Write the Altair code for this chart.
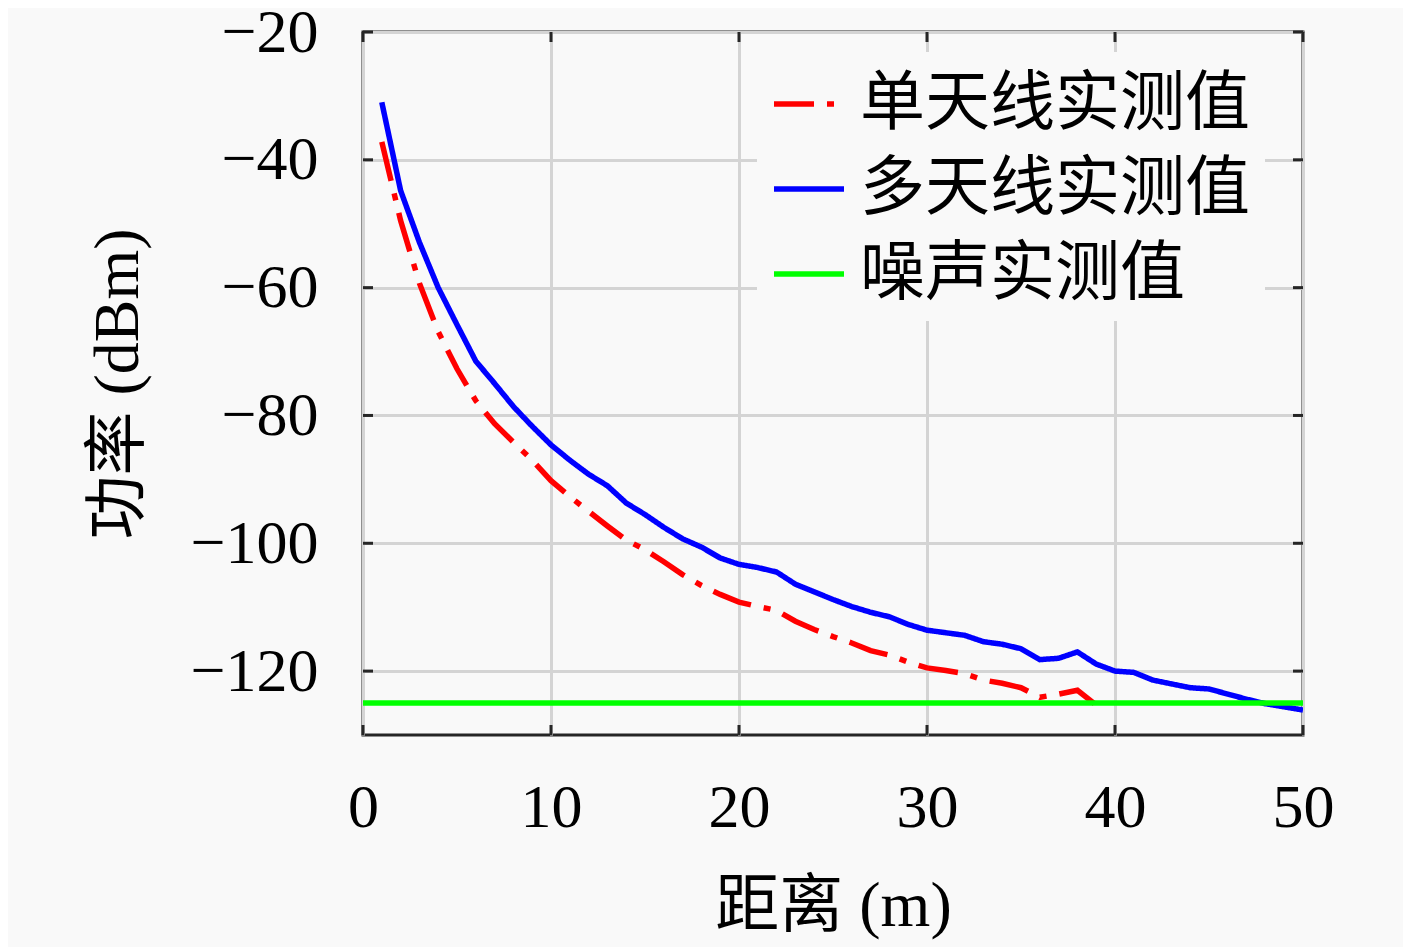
import altair as alt
import pandas as pd

# ---- data ----
x_single = list(range(1, 40))
single = [-37.2, -49.5, -59.3, -66.9, -72.7, -77.7, -81.3, -84.2, -87.0, -90.2,
          -92.7, -95.0, -97.3, -99.5, -101.0, -102.9, -104.9, -106.6, -108.0, -109.2,
          -109.9, -110.5, -112.2, -113.5, -114.6, -115.6, -116.8, -117.5, -118.6, -119.5,
          -119.9, -120.4, -121.4, -121.9, -122.6, -124.1, -123.6, -123.0, -125.3]

x_multi = list(range(1, 51))
multi = [-31.0, -44.8, -52.9, -60.0, -65.8, -71.5, -75.0, -78.6, -81.7, -84.6,
         -87.0, -89.2, -91.0, -93.7, -95.5, -97.5, -99.3, -100.6, -102.3, -103.3,
         -103.8, -104.5, -106.4, -107.6, -108.8, -109.9, -110.8, -111.5, -112.7, -113.6,
         -114.0, -114.4, -115.4, -115.8, -116.5, -118.2, -118.0, -117.0, -118.9, -120.0,
         -120.2, -121.4, -122.0, -122.6, -122.8, -123.6, -124.4, -125.1, -125.6, -126.1]

x_noise = [0, 50]
noise = [-125.0, -125.0]

series_names = ["单天线实测值", "多天线实测值", "噪声实测值"]
series_colors = ["#ff0000", "#0000ff", "#00ff00"]
series_dash = [[40, 13, 7, 13], [1, 0], [1, 0]]

x_ticks = [0, 10, 20, 30, 40, 50]
y_ticks = [-120, -100, -80, -60, -40, -20]
x_domain = [0, 50]
y_domain = [-130, -20]

BG = "#f9f9f9"
FRAME = "#262626"
W, H = 940, 703
SERIF = "'Liberation Serif', 'Noto Sans CJK SC'"
CJK = "'Noto Sans CJK SC'"

rows = []
for xv, yv in zip(x_single, single):
    rows.append({"x": xv, "y": yv, "s": series_names[0]})
for xv, yv in zip(x_multi, multi):
    rows.append({"x": xv, "y": yv, "s": series_names[1]})
for xv, yv in zip(x_noise, noise):
    rows.append({"x": xv, "y": yv, "s": series_names[2]})
df = pd.DataFrame(rows)

xs = alt.Scale(domain=x_domain, nice=False, zero=False)
ys = alt.Scale(domain=y_domain, nice=False, zero=False)

lines = alt.Chart(df).mark_line(strokeWidth=5.5, clip=True).encode(
    x=alt.X("x:Q", scale=xs,
            axis=alt.Axis(values=x_ticks, title="距离 (m)", grid=True, ticks=False,
                          domain=False, labelPadding=42, titlePadding=36,
                          labelFlush=False)),
    y=alt.Y("y:Q", scale=ys,
            axis=alt.Axis(values=y_ticks, title="功率 (dBm)", grid=True, ticks=False,
                          domain=False, labelPadding=45, titlePadding=40,
                          labelFlush=False)),
    color=alt.Color("s:N", sort=series_names,
                    scale=alt.Scale(domain=series_names, range=series_colors),
                    legend=alt.Legend(title=None, orient="none", legendX=394, legendY=20,
                                      symbolType="stroke", symbolSize=4900,
                                      symbolStrokeWidth=5.5, labelFontSize=65,
                                      labelFont=CJK, labelOffset=13, rowPadding=14,
                                      fillColor=BG, padding=14, labelLimit=0,
                                      labelColor="#000000")),
    strokeDash=alt.StrokeDash("s:N", sort=series_names,
                              scale=alt.Scale(domain=series_names, range=series_dash),
                              legend=None),
    order="x:Q",
    detail="s:N",
)

xt = pd.DataFrame({"v": x_ticks})
yt = pd.DataFrame({"v": y_ticks})

tick_bottom = alt.Chart(xt).mark_rule(color=FRAME, strokeWidth=3).encode(
    x=alt.X("v:Q", scale=xs), y=alt.value(H), y2=alt.value(H - 10))
tick_top = alt.Chart(xt).mark_rule(color=FRAME, strokeWidth=3).encode(
    x=alt.X("v:Q", scale=xs), y=alt.value(0), y2=alt.value(10))
tick_left = alt.Chart(yt).mark_rule(color=FRAME, strokeWidth=3).encode(
    y=alt.Y("v:Q", scale=ys), x=alt.value(0), x2=alt.value(10))
tick_right = alt.Chart(yt).mark_rule(color=FRAME, strokeWidth=3).encode(
    y=alt.Y("v:Q", scale=ys), x=alt.value(W), x2=alt.value(W - 10))

chart = alt.layer(lines, tick_bottom, tick_top, tick_left, tick_right).properties(
    width=W, height=H,
    autosize=alt.AutoSizeParams(type="none"),
    padding={"left": 355, "top": 24, "right": 100, "bottom": 212},
    background=BG,
).configure_view(
    stroke=FRAME, strokeWidth=3, fill=BG,
).configure_axis(
    labelFont="Liberation Serif", labelFontSize=62, labelColor="#000000",
    titleFont=SERIF, titleFontSize=64, titleColor="#000000", titleFontWeight="normal",
    gridColor="#d4d4d4", gridWidth=3, gridOpacity=1,
)

chart.save("out.html", embed_options={"renderer": "svg", "actions": False})
